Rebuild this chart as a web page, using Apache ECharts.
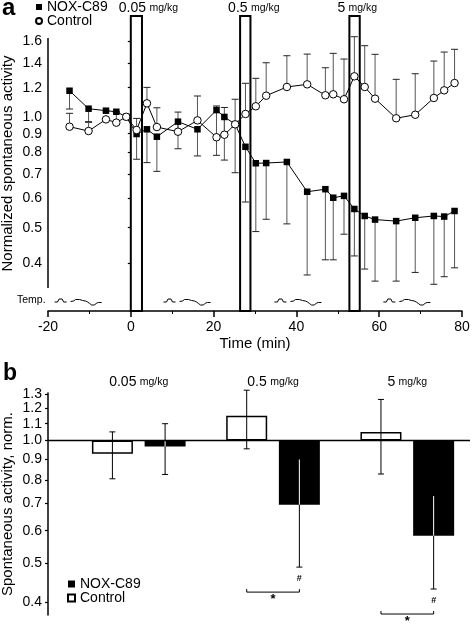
<!DOCTYPE html>
<html><head><meta charset="utf-8">
<script src="https://cdn.jsdelivr.net/npm/echarts@6/dist/echarts.min.js"></script>
<style>html,body{margin:0;padding:0;background:#fff}#c{width:472px;height:624px}</style>
</head><body><div id="c"></div>
<script>
// ---------- Panel a data ----------
const timeMin     = [-14.8,-10.2,-6.0,-3.5,-1.1,1.4,3.9,6.3,11.4,16.1,20.7,22.6,25.2,27.7,30.2,32.7,37.7,42.6,47.0,48.9,51.5,54.0,56.5,59.0,64.1,68.7,73.2,75.7,78.2];
const noxValues   = [1.177,1.052,1.039,1.032,1.0,0.898,0.925,0.883,0.970,0.925,1.043,0.999,0.955,0.829,0.748,0.749,0.754,0.626,0.636,0.603,0.610,0.562,0.538,0.526,0.521,0.532,0.538,0.536,0.555];
const noxErrLow   = [1.05,0.966,1.039,1.032,1.0,0.767,0.751,0.711,0.819,0.783,0.786,0.763,0.705,0.587,0.488,0.527,0.512,0.372,0.409,0.409,0.480,0.419,0.386,0.358,0.358,0.378,0.351,0.368,0.389];
const ctrlValues  = [0.94,0.915,0.984,0.964,1.0,0.921,1.088,0.938,0.911,0.978,0.880,0.894,0.954,1.018,1.068,1.141,1.205,1.225,1.144,1.151,1.116,1.288,1.205,1.12,0.991,1.013,1.125,1.18,1.235];
const ctrlErrHigh = [1.022,0.97,0.984,1.03,1.0,0.99,1.202,1.058,1.03,1.139,1.07,1.06,1.116,1.233,1.272,1.402,1.465,1.48,1.359,1.487,1.435,1.65,1.56,1.478,1.264,1.309,1.417,1.499,1.525];
const injectionWindows = [[0,2.7],[26.4,28.9],[52.8,55.3]];
const doseText = ['0.05','0.5','5'];
const tempMarkStarts = [-18.4,7.9,34.7,61.0];
const topYTicks = [0.4,0.5,0.6,0.7,0.8,0.9,1.0,1.2,1.4,1.6];
const topXTicks = [-20,0,20,40,60,80];

// ---------- Panel b data ----------
const doseGroup   = [1,2,3];
const ctrlBar     = [0.928,1.150,1.049];
const ctrlBarLow  = [0.805,0.954,0.827];
const ctrlBarHigh = [1.05,1.33,1.262];
const noxBar      = [0.966,0.695,0.583];
const noxBarLow   = [0.825,0.488,0.431];
const noxBarHigh  = [1.10,0.898,0.730];
const sigGroups   = [2,3];
const botYTicks   = [0.4,0.5,0.6,0.7,0.8,0.9,1.0,1.1,1.2,1.3];

const FONT = '"Liberation Sans", Arial, Helvetica, sans-serif';
const BAR_W = 41, BAR_GAP = 0.285;
const BAR_OFF = (BAR_W + BAR_W*BAR_GAP)/2;

const chart = echarts.init(document.getElementById('c'));

function errRender(params, api){
  const p = api.coord([api.value(0), api.value(1)]);
  const e = api.coord([api.value(0), api.value(2)]);
  return {type:'group', children:[
    {type:'line', shape:{x1:p[0],y1:p[1],x2:e[0],y2:e[1]}, style:{stroke:'#555',lineWidth:1}},
    {type:'line', shape:{x1:e[0]-3.5,y1:e[1],x2:e[0]+3.5,y2:e[1]}, style:{stroke:'#222',lineWidth:1}}
  ]};
}

const squiggle = [
  [[0,0],[3,0],[4.5,-3],[7.5,-3],[9,0],[12,0]],
  [[16,-0.5],[19,-1],[21,-2.5],[25,-2.5],[28,-1.5],[31,-1],[33,0],[35,1.5],[37,3],[40,3],[42,1],[44,0.5],[47,0.5]]
];

const richDose = {
  n:{fontSize:14,fontFamily:FONT,color:'#000'},
  u:{fontSize:10.5,fontFamily:FONT,color:'#000'}
};

const option = {
  animation:false,
  backgroundColor:'#fff',
  textStyle:{fontFamily:FONT,color:'#000'},
  grid:[
    {left:48,right:10,top:16,bottom:313,outerBoundsMode:'none',containLabel:false},
    {left:48,right:2,top:393,bottom:9,outerBoundsMode:'none',containLabel:false}
  ],
  legend:[
    {orient:'vertical',left:35,top:0,itemWidth:6,itemHeight:6,itemGap:0,padding:0,
     textStyle:{fontSize:14,color:'#000',fontFamily:FONT},selectedMode:false,
     data:[{name:'NOX-C89',icon:'rect'},{name:'Control',icon:'circle'}]},
    {orient:'vertical',left:67,top:577,itemWidth:7,itemHeight:7,itemGap:0,padding:0,
     textStyle:{fontSize:14,color:'#000',fontFamily:FONT},selectedMode:false,
     formatter:n=>n.replace(' (b)',''),
     data:[{name:'NOX-C89 (b)',icon:'rect'},{name:'Control (b)',icon:'rect'}]}
  ],
  xAxis:[
    {gridIndex:0,type:'value',min:-20,max:80,interval:20,
     axisLine:{lineStyle:{color:'#000',width:1.5}},
     axisTick:{length:6,lineStyle:{color:'#000',width:1.5}},
     minorTick:{show:true,splitNumber:2,length:3,lineStyle:{color:'#000',width:1}},
     axisLabel:{fontSize:14,color:'#000',margin:9,customValues:topXTicks},
     splitLine:{show:false},
     name:'Time (min)',nameLocation:'middle',nameGap:25,nameMoveOverlap:false,
     nameTextStyle:{fontSize:15,color:'#000'}},
    {gridIndex:1,type:'value',min:0.324,max:3.467,position:'top',
     axisLine:{show:false},axisTick:{show:false},splitLine:{show:false},
     axisLabel:{customValues:doseGroup,margin:4,
       formatter:v=>'{n|'+doseText[Math.round(v)-1]+'} {u|mg/kg}',rich:richDose}}
  ],
  yAxis:[
    {gridIndex:0,type:'log',logBase:10,min:0.297,max:1.878,
     axisLine:{show:false},
     axisTick:{length:3,customValues:topYTicks,lineStyle:{color:'#000',width:1.2}},
     axisLabel:{customValues:topYTicks,formatter:v=>(+v).toFixed(1),fontSize:14,color:'#000',margin:6},
     splitLine:{show:false},minorTick:{show:false},
     name:'Normalized spontaneous activity',nameLocation:'middle',nameGap:33,nameMoveOverlap:false,
     nameTextStyle:{fontSize:15,color:'#000'}},
    {gridIndex:1,type:'log',logBase:10,min:0.372,max:1.309,
     axisLine:{show:true,lineStyle:{color:'#000',width:1.5}},
     axisTick:{length:3,customValues:botYTicks,lineStyle:{color:'#000',width:1.2}},
     axisLabel:{customValues:botYTicks,formatter:v=>(+v).toFixed(1),fontSize:14,color:'#000',margin:6},
     splitLine:{show:false},minorTick:{show:false},
     name:'Spontaneous activity, norm.',nameLocation:'middle',nameGap:33,nameMoveOverlap:false,
     nameTextStyle:{fontSize:15,color:'#000'}}
  ],
  series:[
    {type:'custom',xAxisIndex:0,yAxisIndex:0,silent:true,z:1,
     data:[[-20,0.343,1.636]],encode:{x:0,y:[1,2]},
     renderItem:(params,api)=>{
       const a=api.coord([api.value(0),api.value(1)]), b=api.coord([api.value(0),api.value(2)]);
       return {type:'line',shape:{x1:a[0],y1:a[1],x2:b[0],y2:b[1]},style:{stroke:'#000',lineWidth:1.5}};
     }},
    {type:'custom',xAxisIndex:0,yAxisIndex:0,silent:true,z:5,clip:false,
     data:injectionWindows.map((w,i)=>[w[0],w[1],i]),encode:{x:[0,1]},
     renderItem:(params,api)=>{
       const cs=params.coordSys;
       const x0=api.coord([api.value(0),1])[0], x1=api.coord([api.value(1),1])[0];
       const i=api.value(2);
       return {type:'group',children:[
         {type:'rect',shape:{x:x0,y:cs.y,width:x1-x0,height:cs.height},style:{fill:null,stroke:'#000',lineWidth:2}},
         {type:'text',x:x0-12,y:8,style:{text:'{n|'+doseText[i]+'} {u|mg/kg}',rich:richDose,verticalAlign:'middle',align:'left'}}
       ]};
     }},
    {type:'custom',xAxisIndex:0,yAxisIndex:0,silent:true,z:1,
     data:tempMarkStarts.map(t=>[t,1]),encode:{x:0},
     renderItem:(params,api)=>{
       const cs=params.coordSys;
       const x=api.coord([api.value(0),1])[0], y=cs.y+cs.height-9;
       return {type:'group',children:squiggle.map(seg=>({type:'polyline',
         shape:{points:seg.map(p=>[x+p[0],y+p[1]])},style:{stroke:'#000',lineWidth:1,fill:null}}))};
     }},
    {type:'custom',name:'noxErr',xAxisIndex:0,yAxisIndex:0,silent:true,z:2,
     data:timeMin.map((t,i)=>[t,noxValues[i],noxErrLow[i]]),encode:{x:0,y:[1,2]},renderItem:errRender},
    {type:'custom',name:'ctrlErr',xAxisIndex:0,yAxisIndex:0,silent:true,z:2,
     data:timeMin.map((t,i)=>[t,ctrlValues[i],ctrlErrHigh[i]]),encode:{x:0,y:[1,2]},renderItem:errRender},
    {type:'line',name:'NOX-C89',xAxisIndex:0,yAxisIndex:0,z:3,
     data:timeMin.map((t,i)=>[t,noxValues[i]]),
     symbol:'rect',symbolSize:6.5,showAllSymbol:true,
     itemStyle:{color:'#000'},lineStyle:{color:'#000',width:1},emphasis:{disabled:true}},
    {type:'line',name:'Control',xAxisIndex:0,yAxisIndex:0,z:4,
     data:timeMin.map((t,i)=>[t,ctrlValues[i]]),
     symbol:'circle',symbolSize:7.5,showAllSymbol:true,
     itemStyle:{color:'#fff',borderColor:'#000',borderWidth:1},lineStyle:{color:'#000',width:1},emphasis:{disabled:true}},
    {type:'bar',name:'Control (b)',xAxisIndex:1,yAxisIndex:1,barWidth:BAR_W,barGap:(BAR_GAP*100)+'%',z:2,
     data:doseGroup.map((g,i)=>[g,ctrlBar[i]]),
     itemStyle:{color:'#fff',borderColor:'#000',borderWidth:1.5},emphasis:{disabled:true},
     markLine:{silent:true,symbol:'none',label:{show:false},lineStyle:{color:'#000',width:1.3,type:'solid'},data:[{yAxis:1}]}},
    {type:'bar',name:'NOX-C89 (b)',xAxisIndex:1,yAxisIndex:1,barWidth:BAR_W,barGap:(BAR_GAP*100)+'%',z:2,
     data:doseGroup.map((g,i)=>[g,noxBar[i]]),
     itemStyle:{color:'#000'},emphasis:{disabled:true}},
    {type:'custom',xAxisIndex:1,yAxisIndex:1,silent:true,z:4,clip:false,
     data:doseGroup.map((g,i)=>[g,ctrlBarLow[i],ctrlBarHigh[i],ctrlBar[i],-1]).concat(
          doseGroup.map((g,i)=>[g,noxBarLow[i],noxBarHigh[i],noxBar[i],1])),
     encode:{x:0,y:[1,2]},
     renderItem:(params,api)=>{
       const g=api.value(0), lo=api.value(1), hi=api.value(2), v=api.value(3), side=api.value(4);
       const x=api.coord([g,1])[0]+side*BAR_OFF;
       const Y=val=>api.coord([g,val])[1];
       const kids=[
         {type:'line',shape:{x1:x,y1:Y(lo),x2:x,y2:Y(hi)},style:{stroke:'#000',lineWidth:1}},
         {type:'line',shape:{x1:x-3,y1:Y(lo),x2:x+3,y2:Y(lo)},style:{stroke:'#000',lineWidth:1}},
         {type:'line',shape:{x1:x-3,y1:Y(hi),x2:x+3,y2:Y(hi)},style:{stroke:'#000',lineWidth:1}}
       ];
       if(side>0){
         const a=Math.max(lo,Math.min(v,1)), b=Math.min(hi,Math.max(v,1));
         if(b>a) kids.push({type:'line',shape:{x1:x,y1:Y(a),x2:x,y2:Y(b)},style:{stroke:'#fff',lineWidth:1}});
       }
       return {type:'group',children:kids};
     }},
    {type:'custom',xAxisIndex:1,yAxisIndex:1,silent:true,z:4,clip:false,
     data:sigGroups.map(g=>[g,noxBarLow[g-1]]),encode:{x:0,y:1},
     renderItem:(params,api)=>{
       const g=api.value(0);
       const c=api.coord([g,api.value(1)]);
       const xl=c[0]-BAR_OFF, xr=c[0]+BAR_OFF, yb=c[1]+25;
       return {type:'group',children:[
         {type:'text',x:xr,y:c[1]+11,style:{text:'#',font:'bold 9px '+FONT,align:'center',verticalAlign:'middle',fill:'#000'}},
         {type:'polyline',shape:{points:[[xl,yb-3],[xl,yb],[xr,yb],[xr,yb-3]]},style:{stroke:'#000',lineWidth:1,fill:null}},
         {type:'text',x:(xl+xr)/2,y:yb+7,style:{text:'*',font:'bold 13px '+FONT,align:'center',verticalAlign:'middle',fill:'#000'}}
       ]};
     }}
  ],
  graphic:[
    {type:'text',left:2,top:-4,style:{text:'a',font:'bold 24px '+FONT,fill:'#000'}},
    {type:'text',left:3,top:362,style:{text:'b',font:'bold 23px '+FONT,fill:'#000'}},
    {type:'text',left:17,top:295,style:{text:'Temp.',font:'10.5px '+FONT,fill:'#000'}}
  ]
};
chart.setOption(option);
</script></body></html>
